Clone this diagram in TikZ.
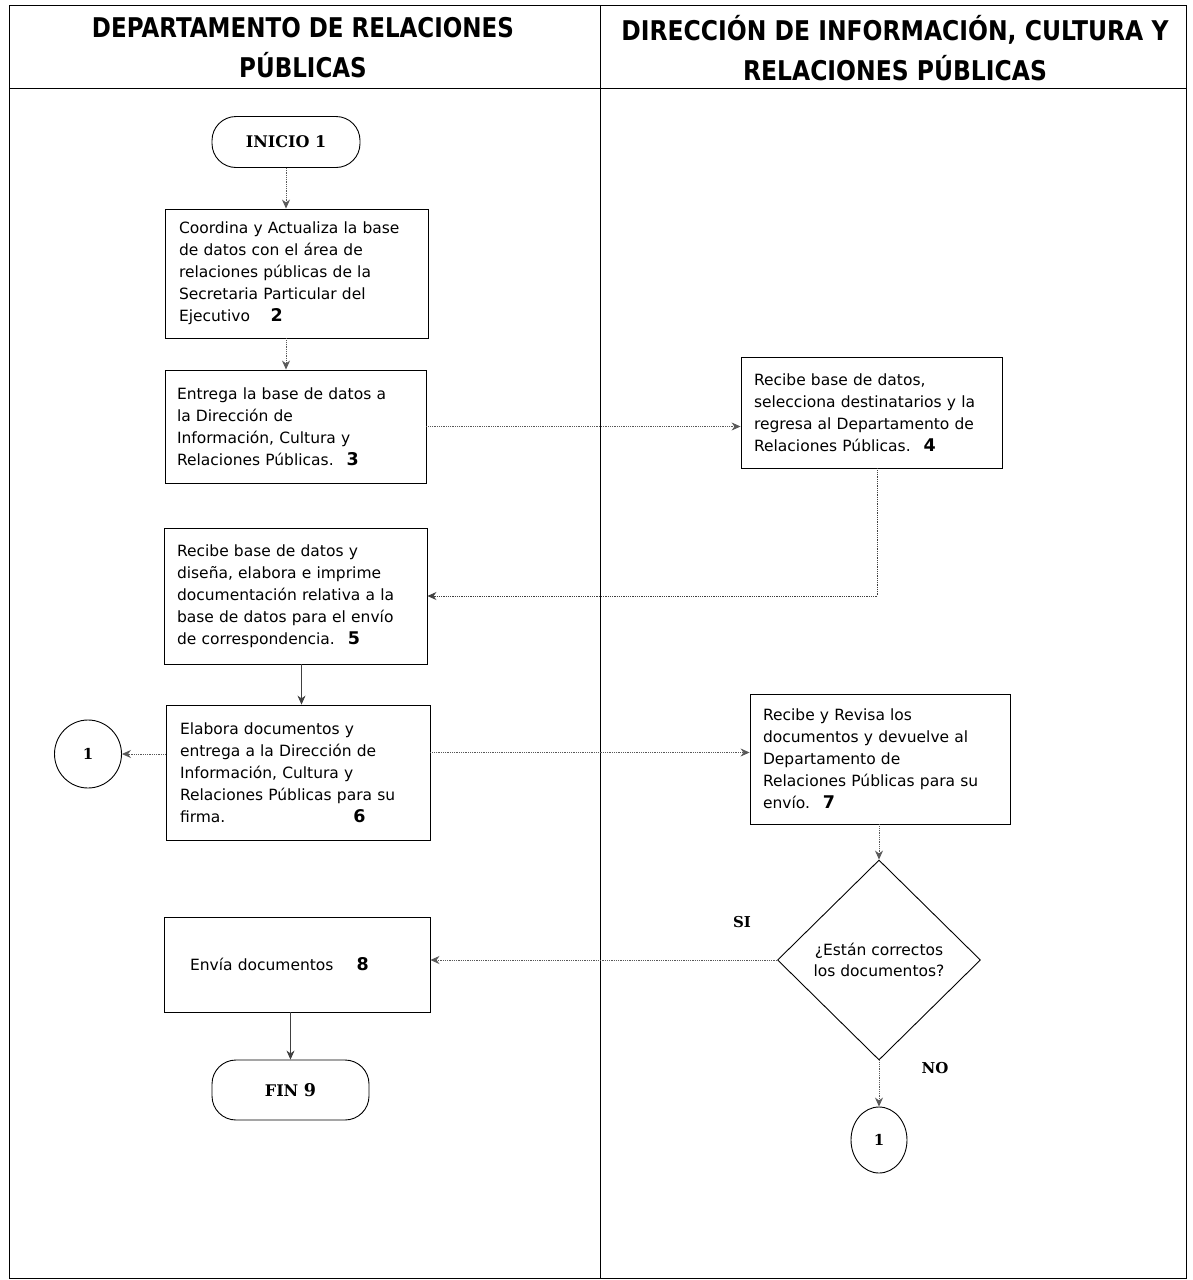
\documentclass[tikz,border=0pt]{standalone}
\usepackage{fontspec}
\setmainfont{DejaVu Sans}
\newfontfamily\serifbold{DejaVu Serif}
\usetikzlibrary{shapes.geometric,arrows.meta}

\begin{document}
\begin{tikzpicture}[x=1pt,y=-1pt,
  frame/.style={draw=black, line width=1pt},
  hdr/.style={align=center, font=\fontsize{23}{40}\selectfont\bfseries},
  stepbox/.style={draw=black, line width=0.9pt, align=left, inner sep=0pt,
    font=\fontsize{15.5}{22}\selectfont},
  term/.style={draw=black, line width=0.9pt, rounded corners=24pt,
    font=\serifbold\bfseries\fontsize{16}{18}\selectfont},
  conncirc/.style={draw=black, line width=0.9pt, ellipse, inner sep=0pt,
    font=\serifbold\bfseries\fontsize{15}{16}\selectfont},
  decision/.style={draw=black, line width=0.9pt, diamond, aspect=1, inner sep=0pt,
    align=center, font=\fontsize{15.5}{21}\selectfont},
  lbl/.style={font=\serifbold\bfseries\fontsize{15}{16}\selectfont},
  conn/.style={draw=black!65, line width=0.8pt, densely dotted,
    -{Stealth[length=9pt,width=8pt]}},
  solidconn/.style={draw=black!75, line width=0.8pt,
    -{Stealth[length=9pt,width=8pt]}}
]
\newcommand{\stepno}[1]{\textbf{\fontsize{17.5}{22}\selectfont #1}}
\useasboundingbox (0,0) rectangle (1192,1280);

% swimlane frame
\draw[frame] (9,5) rectangle (1186,1278);
\draw[frame] (9,88) -- (1186,88);
\draw[frame] (600,5) -- (600,1278);

% lane headers
\node[hdr] (hleft) at (303,48) {\scalebox{1}[1.18]{DEPARTAMENTO DE RELACIONES}\\\scalebox{1}[1.18]{PÚBLICAS}};
\node[hdr] (hright) at (895,48) {\scalebox{1.02}[1.18]{DIRECCIÓN DE INFORMACIÓN, CULTURA Y}\\\scalebox{1.02}[1.18]{RELACIONES PÚBLICAS}};

% process steps
\node[term, minimum width=148pt, minimum height=51pt] (ini) at (286,142) {INICIO 1};

\node[stepbox, minimum width=263pt, minimum height=129pt, text width=235pt] (b2) at (296.5,273.5)
  {Coordina y Actualiza la base\\de datos con el área de\\relaciones públicas de la\\Secretaria Particular del\\Ejecutivo \quad \stepno{2}};

\node[stepbox, minimum width=261pt, minimum height=113pt, text width=237pt] (b3) at (295.5,426.5)
  {Entrega la base de datos a\\la Dirección de\\Información, Cultura y\\Relaciones Públicas. \ \stepno{3}};

\node[stepbox, minimum width=261pt, minimum height=111pt, text width=235pt] (b4) at (871.5,412.5)
  {Recibe base de datos,\\selecciona destinatarios y la\\regresa al Departamento de\\Relaciones Públicas. \ \stepno{4}};

\node[stepbox, minimum width=263pt, minimum height=136pt, text width=237pt] (b5) at (295.5,596)
  {Recibe base de datos y\\diseña, elabora e imprime\\documentación relativa a la\\base de datos para el envío\\de correspondencia. \ \stepno{5}};

\node[stepbox, minimum width=264pt, minimum height=135pt, text width=236pt] (b6) at (298,772.5)
  {Elabora documentos y\\entrega a la Dirección de\\Información, Cultura y\\Relaciones Públicas para su\\firma.\hspace{128pt}\stepno{6}};

\node[conncirc, minimum width=67pt, minimum height=68pt] (c1) at (88,754) {1};

\node[stepbox, minimum width=260pt, minimum height=130pt, text width=234pt] (b7) at (880,759)
  {Recibe y Revisa los\\documentos y devuelve al\\Departamento de\\Relaciones Públicas para su\\envío. \ \stepno{7}};

\node[decision, minimum width=203pt, minimum height=200pt] (dia) at (879,960)
  {¿Están correctos\\los documentos?};

\node[stepbox, minimum width=266pt, minimum height=95pt, text width=214pt] (b8) at (297,964.5)
  {Envía documentos \hspace{18pt}\stepno{8}};

\node[term, minimum width=157pt, minimum height=60pt] (fin) at (290.5,1090)
  {FIN \stepno{9}};

\node[conncirc, minimum width=56pt, minimum height=66pt] (c2) at (879,1140) {1};

% branch labels
\node[lbl] (si) at (742,922) {SI};
\node[lbl] (no) at (935,1068) {NO};

% connectors
\draw[conn] (ini.south) -- (ini.south |- b2.north);
\draw[conn] (ini.south |- b2.south) -- (ini.south |- b3.north);
\draw[conn] (b3.east) -- (b3.east -| b4.west);
\draw[solidconn] ([xshift=6pt]b4.south) -- ([xshift=6pt]b4.south |- b5.east)
  [densely dotted] -- (b5.east);
\draw[solidconn] ([xshift=6pt]b5.south) -- ([xshift=6pt]b5.south |- b6.north);
\draw[conn] (c1.east -| b6.west) -- (c1.east);
\draw[conn] ([yshift=20pt]b6.east) -- ([yshift=20pt]b6.east -| b7.west);
\draw[conn] (dia.north |- b7.south) -- (dia.north);
\draw[conn] (dia.west) -- (dia.west -| b8.east);
\draw[solidconn] (fin.north |- b8.south) -- (fin.north);
\draw[conn] (dia.south) -- (c2.north);
\end{tikzpicture}
\end{document}
